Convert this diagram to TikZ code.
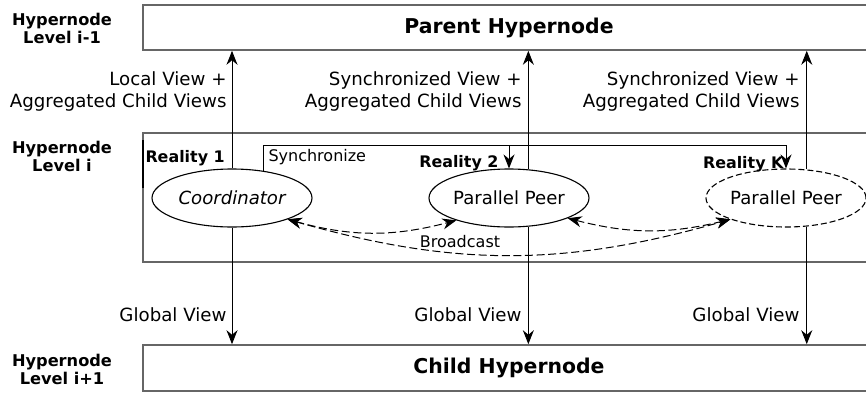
\documentclass[tikz,border=0pt]{standalone}
\usepackage{fontspec}
\setmainfont{DejaVu Sans}
\usepackage{tikz}
\usetikzlibrary{arrows.meta}
\usetikzlibrary{shapes.geometric}
\tikzset{>={Stealth[length=7pt,width=5.5pt]}}
\tikzset{hyper/.style = {shape=rectangle,draw=black!60,line width=0.8pt,minimum width=366pt,font=\fontsize{10.2}{12}\selectfont\bfseries}}
\tikzset{reality/.style = {shape=ellipse,draw,fill=white,line width=0.55pt,minimum width=80pt,minimum height=29pt,inner sep=0pt,font=\fontsize{9.05}{10}\selectfont}}
\tikzset{lbl/.style = {align=right,inner sep=0pt,font=\fontsize{9.1}{11}\selectfont}}
\tikzset{level/.style = {align=center,inner sep=0pt,font=\fontsize{8.1}{8.7}\selectfont\bfseries}}
\tikzset{realbl/.style = {inner sep=0pt,font=\fontsize{7.95}{9}\selectfont\bfseries}}
\tikzset{small/.style = {inner sep=0pt,font=\fontsize{8}{9}\selectfont}}

\begin{document}
\begin{tikzpicture}[x=0.5pt,y=0.5pt,line width=0.5pt]
                \useasboundingbox (0,0) rectangle (866,392);
                \clip (0,0) rectangle (866,392);

                \node[hyper,minimum height=22.5pt] (parent) at (509,364.5) {Parent Hypernode};
                \node[hyper,minimum height=64.5pt] (lvli) at (509,194.5) {};
                \node[hyper,minimum height=23pt] (child) at (509,24) {Child Hypernode};
                \draw[line width=1.2pt] (143,204) -- (143,252);

                \node[level] (lvl0) at (62,363.5) {Hypernode\\Level i-1};
                \node[level] (lvl1) at (62,235.5) {Hypernode\\Level i};
                \node[level] (lvl2) at (62,22.5) {Hypernode\\Level i+1};

                \node[reality,font=\fontsize{9.05}{10}\selectfont\itshape] (coord) at (232,194) {Coordinator};
                \node[reality] (peerb) at (509,194) {Parallel Peer};
                \node[reality,dash pattern=on 3pt off 1.5pt] (peerk) at (786,194) {Parallel Peer};

                \node[realbl,anchor=west] (r1) at (145,234) {Reality 1};
                \node[realbl,anchor=east] (r2) at (499,229) {Reality 2};
                \node[realbl,anchor=east] (rk) at (784,228) {Reality K};

                \draw[->] (coord.north) -- (coord.north |- parent.south);
                \draw[->] (peerb.56) -- (peerb.56 |- parent.south);
                \draw[->] (peerk.54) -- (peerk.54 |- parent.south);
                \draw[->] (coord.south) -- (coord.south |- child.north);
                \draw[->] (peerb.-56) -- (peerb.-56 |- child.north);
                \draw[->] (peerk.-54) -- (peerk.-54 |- child.north);

                \coordinate (synctop) at (0,247);
                \draw[->] (coord.41) |- (synctop -| peerk.north) -- (peerk.north);
                \draw[->] (synctop -| peerb.north) -- (peerb.north);
                \node[small,anchor=west] (sync) at (268,235) {Synchronize};

                \draw[<->,dash pattern=on 4pt off 1.8pt] (coord.-21) to[bend right=15] (peerb.-157);
                \draw[<->,dash pattern=on 4pt off 1.8pt] (coord.-21) to[bend right=16] (peerk.-159);
                \draw[<->,dash pattern=on 4pt off 1.8pt] (peerb.-19) to[bend right=14] (peerk.-159);
                \node[small] (bcast) at (460,150) {Broadcast};

                \node[lbl,anchor=east] (up1) at (227,301) {Local View +\\Aggregated Child Views};
                \node[lbl,anchor=east] (up2) at (522,301) {Synchronized View +\\Aggregated Child Views};
                \node[lbl,anchor=east] (up3) at (800,301) {Synchronized View +\\Aggregated Child Views};
                \node[lbl,anchor=east] (dn1) at (227,77) {Global View};
                \node[lbl,anchor=east] (dn2) at (522,77) {Global View};
                \node[lbl,anchor=east] (dn3) at (800,77) {Global View};
            \end{tikzpicture}
\end{document}
